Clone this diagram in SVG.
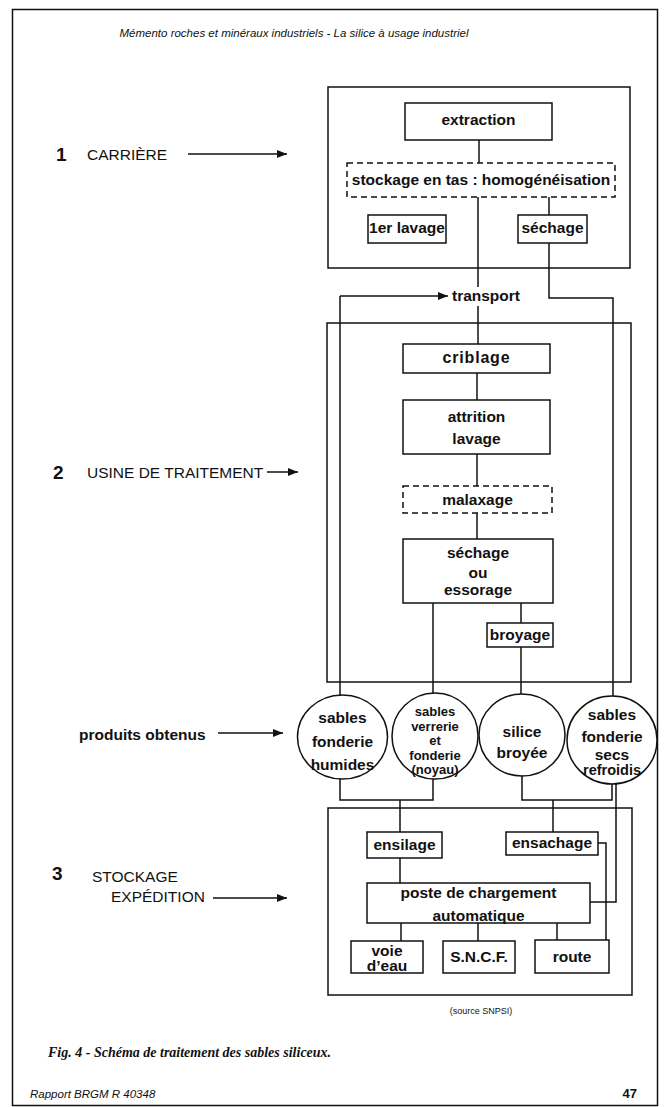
<svg xmlns="http://www.w3.org/2000/svg" width="670" height="1107" viewBox="0 0 670 1107">
<style>
.bx{fill:#fff;stroke:#111;stroke-width:1.5}
.ds{fill:#fff;stroke:#111;stroke-width:1.5;stroke-dasharray:6 4}
.fr{fill:none;stroke:#111;stroke-width:1.5}
.ln{fill:none;stroke:#111;stroke-width:1.5}
.t{font-family:"Liberation Sans",Arial,sans-serif;font-weight:bold;font-size:15.5px;fill:#111;text-anchor:middle}
.c{font-family:"Liberation Sans",Arial,sans-serif;font-weight:bold;font-size:15.5px;fill:#111;text-anchor:middle}
.c2{font-family:"Liberation Sans",Arial,sans-serif;font-weight:bold;font-size:13px;fill:#111;text-anchor:middle}
.lb{font-family:"Liberation Sans",Arial,sans-serif;font-size:15.5px;fill:#111}
.num{font-family:"Liberation Sans",Arial,sans-serif;font-weight:bold;font-size:19px;fill:#111}
</style>
<defs>
<marker id="ah" viewBox="0 0 10 8" refX="10" refY="4" markerWidth="10" markerHeight="8" markerUnits="userSpaceOnUse" orient="auto">
<path d="M0,0 L10,4 L0,8 Z" fill="#111"/>
</marker>
</defs>
<rect x="0" y="0" width="670" height="1107" fill="#fff"/>
<rect x="12.5" y="9.5" width="645" height="1096" fill="none" stroke="#111" stroke-width="1.5"/>
<text x="294" y="37" style="font-family:'Liberation Sans',Arial,sans-serif;font-style:italic;font-size:11.5px;fill:#111" text-anchor="middle">Mémento roches et minéraux industriels - La silice à usage industriel</text>

<!-- frames -->
<g id="frames">
<rect class="fr" x="328" y="87" width="302" height="181"/>
<rect class="fr" x="327" y="323" width="304" height="359"/>
<rect class="fr" x="328" y="808" width="304" height="187"/>
</g>

<!-- connectors -->
<g id="connectors">
<line class="ln" x1="479" y1="140" x2="479" y2="163"/>
<line class="ln" x1="478" y1="197" x2="478" y2="287"/>
<line class="ln" x1="478" y1="306" x2="478" y2="344"/>
<line class="ln" x1="549" y1="197" x2="549" y2="215"/>
<polyline class="ln" points="549,243 549,298 613,298 613,696"/>
<line class="ln" x1="340" y1="296" x2="340" y2="696"/>
<line class="ln" x1="340" y1="296" x2="448" y2="296" marker-end="url(#ah)"/>
<line class="ln" x1="477" y1="373" x2="477" y2="400"/>
<line class="ln" x1="477" y1="454" x2="477" y2="486"/>
<line class="ln" x1="477" y1="513" x2="477" y2="539"/>
<line class="ln" x1="433" y1="603" x2="433" y2="693"/>
<line class="ln" x1="521" y1="603" x2="521" y2="623"/>
<line class="ln" x1="521" y1="647" x2="521" y2="694"/>
<polyline class="ln" points="340,778 340,800 433,800 433,779"/>
<line class="ln" x1="400" y1="800" x2="400" y2="832"/>
<polyline class="ln" points="522,776 522,800 612,800 612,784"/>
<line class="ln" x1="553" y1="800" x2="553" y2="832"/>
<polyline class="ln" points="616,783 616,902 590,902"/>
<line class="ln" x1="400" y1="858" x2="400" y2="883"/>
<polyline class="ln" points="598,843 606,843 606,940"/>
<line class="ln" x1="401" y1="923" x2="401" y2="941"/>
<line class="ln" x1="478" y1="923" x2="478" y2="941"/>
<line class="ln" x1="557" y1="923" x2="557" y2="940"/>
<line class="ln" x1="188" y1="154" x2="287" y2="154" marker-end="url(#ah)"/>
<line class="ln" x1="267" y1="472" x2="298" y2="472" marker-end="url(#ah)"/>
<line class="ln" x1="218" y1="733" x2="283" y2="733" marker-end="url(#ah)"/>
<line class="ln" x1="213" y1="898" x2="287" y2="898" marker-end="url(#ah)"/>
</g>

<!-- side labels -->
<g id="label-carriere">
<text class="num" x="56" y="161">1</text>
<text class="lb" x="87" y="159.5">CARRIÈRE</text>
</g>
<g id="label-usine">
<text class="num" x="53" y="479">2</text>
<text class="lb" x="87" y="477.5">USINE DE TRAITEMENT</text>
</g>
<g id="label-produits">
<text class="lb" x="79" y="740" style="font-weight:bold">produits obtenus</text>
</g>
<g id="label-stockage">
<text class="num" x="52" y="880">3</text>
<text class="lb" x="92" y="881.5">STOCKAGE</text>
<text class="lb" x="111" y="901.5">EXPÉDITION</text>
</g>

<!-- nodes -->
<g id="extraction"><rect class="bx" x="405" y="103" width="147" height="37"/><text class="t" x="478.5" y="125">extraction</text></g>
<g id="stockage-tas"><rect class="ds" x="347" y="163" width="268" height="34"/><text class="t" x="481" y="185">stockage en tas : homogénéisation</text></g>
<g id="lavage1"><rect class="bx" x="368" y="215" width="78" height="28"/><text class="t" x="407" y="233">1er lavage</text></g>
<g id="sechage1"><rect class="bx" x="518" y="215" width="69" height="28"/><text class="t" x="552.5" y="233">séchage</text></g>
<g id="transport"><text class="t" x="486" y="301">transport</text></g>
<g id="criblage"><rect class="bx" x="403" y="344" width="147" height="29"/><text class="t" x="476.5" y="363" style="font-size:16px;letter-spacing:0.8px">criblage</text></g>
<g id="attrition"><rect class="bx" x="403" y="400" width="147" height="54"/><text class="t" x="476.5" y="422">attrition</text><text class="t" x="476.5" y="444">lavage</text></g>
<g id="malaxage"><rect class="ds" x="403" y="486" width="149" height="27"/><text class="t" x="477.5" y="505">malaxage</text></g>
<g id="sechage2"><rect class="bx" x="403" y="539" width="150" height="64"/><text class="t" x="478" y="558">séchage</text><text class="t" x="478" y="578">ou</text><text class="t" x="478" y="595">essorage</text></g>
<g id="broyage"><rect class="bx" x="487" y="623" width="66" height="24"/><text class="t" x="520" y="640">broyage</text></g>

<g id="p-humides"><ellipse class="bx" cx="342.5" cy="737" rx="45" ry="42"/><text class="c" x="342.5" y="723">sables</text><text class="c" x="342.5" y="747">fonderie</text><text class="c" x="342.5" y="770">humides</text></g>
<g id="p-verrerie"><ellipse class="bx" cx="435" cy="736" rx="43" ry="43"/><text class="c2" x="435" y="716">sables</text><text class="c2" x="435" y="730.5">verrerie</text><text class="c2" x="435" y="745">et</text><text class="c2" x="435" y="759.5">fonderie</text><text class="c2" x="435" y="774">(noyau)</text></g>
<g id="p-silice"><ellipse class="bx" cx="522" cy="735" rx="43" ry="41"/><text class="c" x="522" y="737">silice</text><text class="c" x="522" y="758">broyée</text></g>
<g id="p-secs"><ellipse class="bx" cx="612" cy="740" rx="45" ry="44"/><text class="c" x="612" y="720">sables</text><text class="c" x="612" y="742">fonderie</text><text class="c" x="612" y="760">secs</text><text class="c" x="612" y="775" style="font-size:14.5px">refroidis</text></g>

<g id="ensilage"><rect class="bx" x="367" y="832" width="75" height="26"/><text class="t" x="404.5" y="850">ensilage</text></g>
<g id="ensachage"><rect class="bx" x="506" y="832" width="92" height="23"/><text class="t" x="552" y="848">ensachage</text></g>
<g id="poste"><rect class="bx" x="367" y="883" width="223" height="40"/><text class="t" x="478.5" y="898">poste de chargement</text><text class="t" x="478.5" y="921">automatique</text></g>
<g id="voie"><rect class="bx" x="351" y="941" width="72" height="32"/><text class="t" x="387" y="956">voie</text><text class="t" x="387" y="971">d’eau</text></g>
<g id="sncf"><rect class="bx" x="443" y="941" width="72" height="32"/><text class="t" x="479" y="962">S.N.C.F.</text></g>
<g id="route"><rect class="bx" x="535" y="940" width="74" height="33"/><text class="t" x="572" y="962">route</text></g>

<text x="481" y="1014" style="font-family:'Liberation Sans',Arial,sans-serif;font-size:9px;fill:#111" text-anchor="middle">(source SNPSI)</text>
<text x="48" y="1057" style="font-family:'Liberation Serif','Times New Roman',serif;font-style:italic;font-weight:bold;font-size:14px;fill:#111">Fig. 4 - Schéma de traitement des sables siliceux.</text>
<text x="30" y="1098" style="font-family:'Liberation Sans',Arial,sans-serif;font-style:italic;font-size:11.5px;fill:#111">Rapport BRGM R 40348</text>
<text x="637" y="1098" style="font-family:'Liberation Sans',Arial,sans-serif;font-weight:bold;font-size:13px;fill:#111" text-anchor="end">47</text>
</svg>
